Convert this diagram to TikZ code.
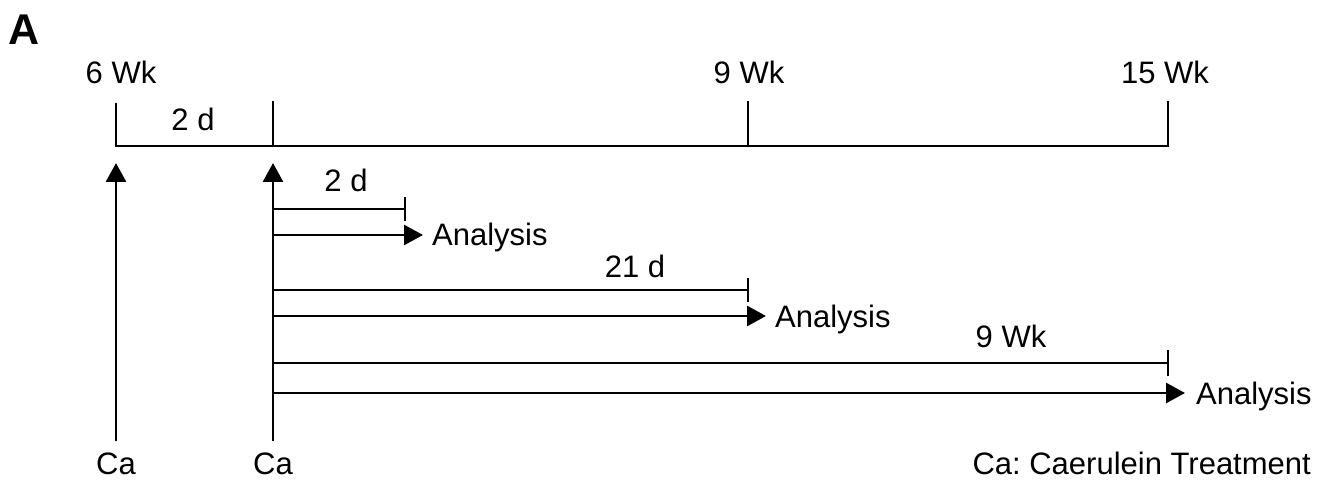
\documentclass[tikz,border=0pt]{standalone}
\usepackage{fontspec}
\setmainfont{Liberation Sans}
\usetikzlibrary{arrows.meta}
\begin{document}
\frenchspacing
\begin{tikzpicture}[x=1pt,y=-1pt,
  ln/.style={line width=2.8pt},
  arr/.style={line width=2.8pt,-{Triangle[length=19pt,width=20pt]}},
  tick/.style={line width=2.8pt},
  lbl/.style={font=\fontsize{31}{34}\selectfont,anchor=base,inner sep=0pt},
  lbll/.style={font=\fontsize{31}{34}\selectfont,anchor=base west,inner sep=0pt}]
\useasboundingbox (0,0) rectangle (1318,481);
\node[font=\fontsize{43}{46}\selectfont\bfseries,anchor=base west,inner sep=0pt] (A) at (8,45) {A};
% main timeline
\coordinate (t0) at (116,146);
\coordinate (t1) at (273,146);
\coordinate (t2) at (748,146);
\coordinate (t3) at (1168,146);
\coordinate (t0u) at (116,103);
\coordinate (t1u) at (273,101);
\coordinate (t2u) at (748,101);
\coordinate (t3u) at (1168,101);
\draw[ln] (t0u) -- (t0) -- (t3) -- (t3u);
\draw[tick] (t1) -- (t1u);
\draw[tick] (t2) -- (t2u);
\node[lbl] (w6) at (121,84) {6 Wk};
\node[lbl] (w9) at (749,84) {9 Wk};
\node[lbl] (w15) at (1165,84) {15 Wk};
\node[lbl] (d2a) at (193,131) {2 d};
% caerulein arrows
\coordinate (c0b) at (116,441);
\coordinate (c0t) at (116,163);
\coordinate (c1b) at (273,441);
\coordinate (c1t) at (273,163);
\draw[arr] (c0b) -- (c0t);
\draw[arr] (c1b) -- (c1t);
\node[lbl] (ca0) at (116,474) {Ca};
\node[lbl] (ca1) at (273,474) {Ca};
% branch 1
\coordinate (b1s) at (273,209);
\coordinate (b1e) at (405,209);
\coordinate (b1eu) at (405,197);
\coordinate (b1ed) at (405,221);
\draw[ln] (b1s) -- (b1e);
\draw[tick] (b1eu) -- (b1ed);
\coordinate (a1s) at (273,235);
\coordinate (a1e) at (423,235);
\draw[arr] (a1s) -- (a1e);
\node[lbl] (d2b) at (346,192) {2 d};
\node[lbll] (an1) at (432,246) {Analysis};
% branch 2
\coordinate (b2s) at (273,290);
\coordinate (b2e) at (748,290);
\coordinate (b2eu) at (748,278);
\coordinate (b2ed) at (748,302);
\draw[ln] (b2s) -- (b2e);
\draw[tick] (b2eu) -- (b2ed);
\coordinate (a2s) at (273,316);
\coordinate (a2e) at (766,316);
\draw[arr] (a2s) -- (a2e);
\node[lbl] (d21) at (635,277) {21 d};
\node[lbll] (an2) at (775,327) {Analysis};
% branch 3
\coordinate (b3s) at (273,363);
\coordinate (b3e) at (1168,363);
\coordinate (b3eu) at (1168,350);
\coordinate (b3ed) at (1168,376);
\draw[ln] (b3s) -- (b3e);
\draw[tick] (b3eu) -- (b3ed);
\coordinate (a3s) at (273,393);
\coordinate (a3e) at (1185,393);
\draw[arr] (a3s) -- (a3e);
\node[lbl] (wk9) at (1011,347) {9 Wk};
\node[lbll] (an3) at (1196,404) {Analysis};
\node[font=\fontsize{31}{34}\selectfont,anchor=base east,inner sep=0pt] (leg) at (1311,474) {Ca: Caerulein Treatment};
\end{tikzpicture}
\end{document}
